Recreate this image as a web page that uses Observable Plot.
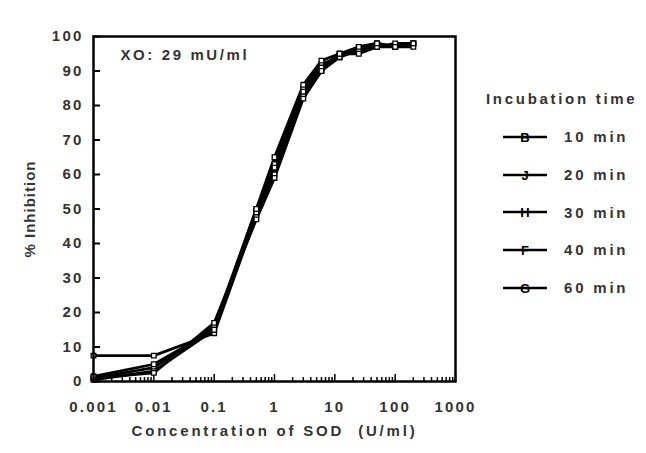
<!DOCTYPE html>
<html>
<head>
<meta charset="utf-8">
<script src="https://cdn.jsdelivr.net/npm/d3@7"></script>
<script src="https://cdn.jsdelivr.net/npm/@observablehq/plot@0.6"></script>
<style>
  html, body { margin: 0; padding: 0; background: #fff; }
  #wrap { position: relative; width: 646px; height: 453px; font-family: "Liberation Sans", Arial, sans-serif; }
  #legend { position: absolute; left: 486px; top: 90px; font-weight: bold; font-size: 15px; color: #333; }
  #legend .title { letter-spacing: 2.7px; height: 20px; margin-bottom: 8px; white-space: nowrap; }
  #legend .row { display: flex; align-items: center; height: 37.7px; margin-left: 16px; }
  #legend .row span { margin-left: 16px; letter-spacing: 2.8px; white-space: nowrap; }
</style>
</head>
<body>
<div id="wrap"></div>
<script>
// Data
const concentrations = [0.001, 0.01, 0.1, 0.5, 1, 3, 6, 12, 25, 50, 100, 200];
const series = ["10 min", "20 min", "30 min", "40 min", "60 min"];
const glyphs = ["B", "J", "H", "F", "G"];
const inhib10 = [7.5, 7.5, 14, 48, 60, 83, 90, 94, 96, 97, 97, 98];
const inhib20 = [1, 4, 16, 50, 63, 85, 92, 94, 97, 98, 97, 98];
const inhib30 = [0.5, 3, 15, 49, 62, 84, 91, 95, 96, 98, 97, 97];
const inhib40 = [1, 2.5, 17, 47, 59, 82, 90, 95, 95, 97, 98, 98];
const inhib60 = [1.5, 5, 15, 50, 65, 86, 93, 95, 97, 98, 97, 98];
const xTicks = [0.001, 0.01, 0.1, 1, 10, 100, 1000];
const yTicks = [0, 10, 20, 30, 40, 50, 60, 70, 80, 90, 100];
const annotation = "XO: 29 mU/ml";
const xLabel = "Concentration of SOD  (U/ml)";
const yLabel = "% Inhibition";

const allSeries = [inhib10, inhib20, inhib30, inhib40, inhib60];
const rows = [];
allSeries.forEach((vals, i) => vals.forEach((v, j) => rows.push({series: series[i], c: concentrations[j], v})));

const minorTicks = [];
for (let e = -3; e < 3; e++) for (let m = 2; m <= 9; m++) minorTicks.push(m * Math.pow(10, e));

const chart = Plot.plot({
  width: 646, height: 453,
  marginLeft: 93, marginRight: 191, marginTop: 36, marginBottom: 72,
  style: {fontFamily: "Liberation Sans, Arial, sans-serif", fontSize: "15px", fontWeight: "bold", color: "#333", background: "white"},
  x: {type: "log", domain: [0.001, 1000]},
  y: {domain: [0, 100]},
  marks: [
    Plot.axisY({ticks: yTicks, tickSize: 0, tickPadding: 10, tickFormat: d => String(d), label: null, fontSize: 15}),
    Plot.axisY({ticks: yTicks, tickSize: -7, tickFormat: () => "", label: null, strokeWidth: 2, stroke: "black"}),
    Plot.axisX({ticks: xTicks, tickSize: 0, tickPadding: 20, tickFormat: d => String(d), label: null, fontSize: 15}),
    Plot.axisX({ticks: xTicks, tickSize: -7, tickFormat: () => "", label: null, strokeWidth: 1.5, stroke: "black"}),
    Plot.axisX({ticks: minorTicks, tickSize: -4, tickFormat: () => "", label: null, strokeWidth: 1.5, stroke: "black"}),
    Plot.line(rows, {x: "c", y: "v", z: "series", stroke: "black", strokeWidth: 2.8}),
    Plot.dot(rows, {x: "c", y: "v", symbol: "square", r: 2.6, fill: "white", stroke: "black", strokeWidth: 1.3}),
    Plot.text([annotation], {frameAnchor: "top-left", dx: 27, dy: 13, text: d => d, fontSize: 15, fontWeight: "bold", textAnchor: "start"}),
    Plot.text([yLabel], {frameAnchor: "left", dx: -63, rotate: -90, text: d => d, fontSize: 15, fontWeight: "bold", textAnchor: "middle"}),
    Plot.text([xLabel], {frameAnchor: "bottom", dy: 54, text: d => d, fontSize: 15, fontWeight: "bold", textAnchor: "middle"}),
    Plot.frame({stroke: "black", strokeWidth: 2.5})
  ]
});
document.getElementById("wrap").appendChild(chart);

// Letter spacing to match the wide original type
d3.select(chart).selectAll("text").each(function () {
  const t = this.textContent;
  let ls = "2.2px";
  if (t === annotation) ls = "2.6px";
  else if (t === xLabel) ls = "2.8px";
  else if (t === yLabel) ls = "1px";
  this.style.letterSpacing = ls;
});

// Legend
const legend = document.createElement("div");
legend.id = "legend";
let html = `<div class="title">Incubation time</div>`;
series.forEach((s, i) => {
  html += `<div class="row"><svg width="46" height="16"><line x1="1" y1="8" x2="45" y2="8" stroke="black" stroke-width="2.5"/>` +
    `<text x="23" y="13" text-anchor="middle" font-size="13" font-weight="bold" font-family="Liberation Sans, Arial">${glyphs[i]}</text></svg><span>${s}</span></div>`;
});
legend.innerHTML = html;
document.getElementById("wrap").appendChild(legend);
</script>
</body>
</html>
